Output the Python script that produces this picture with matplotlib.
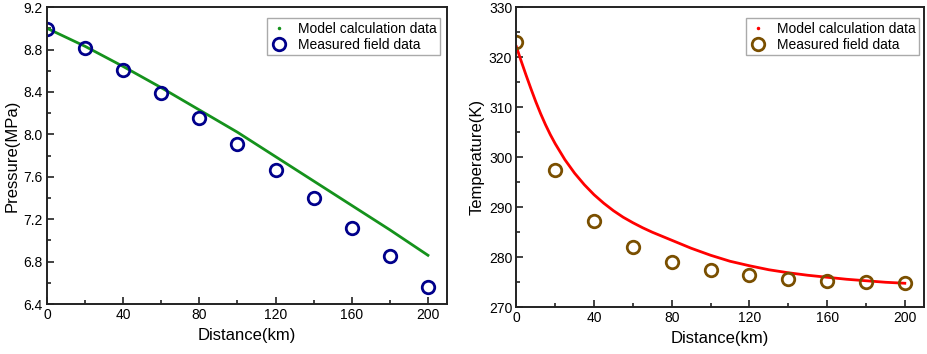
import matplotlib
matplotlib.use("Agg")
import matplotlib.pyplot as plt
from matplotlib.lines import Line2D
from matplotlib.ticker import MultipleLocator, FormatStrFormatter

plt.rcParams['font.family'] = ['Liberation Sans', 'DejaVu Sans']

# measured field data (every 20 km)
dist_meas = [0, 20, 40, 60, 80, 100, 120, 140, 160, 180, 200]
pres_meas = [8.99, 8.81, 8.61, 8.39, 8.15, 7.91, 7.66, 7.40, 7.12, 6.85, 6.56]
temp_meas = [323.0, 297.4, 287.2, 282.1, 279.1, 277.5, 276.4, 275.7, 275.3, 275.0, 274.8]

# model calculation data
dist_pres_model = [0, 20, 40, 60, 80, 100, 120, 140, 160, 180, 200]
pres_model = [9.00, 8.83, 8.64, 8.44, 8.23, 8.02, 7.79, 7.56, 7.33, 7.10, 6.86]

dist_temp_model = [0, 2.5, 5, 7.5, 10, 12.5, 15, 17.5, 20, 25, 30, 35, 40, 45, 50, 55, 60,
                   65, 70, 80, 90, 100, 110, 120, 130, 140, 150, 160, 170, 180, 190, 200]
temp_model = [322.1, 319.2, 316.4, 313.7, 311.1, 308.7, 306.5, 304.5, 302.7, 299.5, 296.8,
              294.5, 292.5, 290.8, 289.3, 288.0, 286.9, 285.9, 285.0, 283.4, 281.8, 280.4,
              279.2, 278.3, 277.5, 276.9, 276.4, 276.0, 275.6, 275.3, 275.0, 274.8]

fig = plt.figure(figsize=(9.27, 3.54), dpi=100)
ax1 = fig.add_axes([0.0507, 0.141, 0.4315, 0.839])
ax2 = fig.add_axes([0.557, 0.132, 0.440, 0.848])


def style_axes(ax):
    for s in ax.spines.values():
        s.set_linewidth(1.4)
        s.set_color('#222222')
    ax.set_xlim(0, 210)
    ax.xaxis.set_major_locator(MultipleLocator(40))
    ax.xaxis.set_minor_locator(MultipleLocator(20))
    ax.tick_params(which='both', direction='in', top=False, right=False,
                   labelsize=10, width=1.2, color='#222222', pad=3)
    ax.tick_params(which='major', length=5)
    ax.tick_params(which='minor', length=3)
    ax.set_xlabel('Distance(km)', fontsize=12, labelpad=4)


def add_legend(ax, line_color, marker_color, anchor):
    handles = [
        Line2D([], [], linestyle='none', marker='.', markersize=3, color=line_color),
        Line2D([], [], linestyle='none', marker='o', markersize=9, markerfacecolor='none',
               markeredgecolor=marker_color, markeredgewidth=2),
    ]
    leg = ax.legend(handles, ['Model calculation data', 'Measured field data'],
                    loc='upper right', bbox_to_anchor=anchor, borderaxespad=0,
                    fontsize=10, fancybox=False, framealpha=1, edgecolor='#aaaaaa',
                    handlelength=1.2, handletextpad=0.8, labelspacing=0.15,
                    borderpad=0.25)
    leg.get_frame().set_linewidth(1.0)


# left: pressure
green = '#15921c'
navy = '#00008b'
ax1.plot(dist_pres_model, pres_model, color=green, lw=2)
ax1.plot(dist_meas, pres_meas, linestyle='none', marker='o', markersize=9,
         markerfacecolor='none', markeredgecolor=navy, markeredgewidth=2)
style_axes(ax1)
ax1.set_ylim(6.4, 9.2)
ax1.yaxis.set_major_locator(MultipleLocator(0.4))
ax1.yaxis.set_minor_locator(MultipleLocator(0.2))
ax1.yaxis.set_major_formatter(FormatStrFormatter('%.1f'))
ax1.set_ylabel('Pressure(MPa)', fontsize=12, labelpad=3)
add_legend(ax1, green, navy, (0.983, 0.963))

# right: temperature
red = '#ff0000'
brown = '#7a4f00'
ax2.plot(dist_temp_model, temp_model, color=red, lw=2)
ax2.plot(dist_meas, temp_meas, linestyle='none', marker='o', markersize=9,
         markerfacecolor='none', markeredgecolor=brown, markeredgewidth=2)
style_axes(ax2)
ax2.set_ylim(270, 330)
ax2.yaxis.set_major_locator(MultipleLocator(10))
ax2.yaxis.set_minor_locator(MultipleLocator(5))
ax2.set_ylabel('Temperature(K)', fontsize=12, labelpad=3)
add_legend(ax2, red, brown, (0.988, 0.963))

fig.savefig('out.png', dpi=100)
